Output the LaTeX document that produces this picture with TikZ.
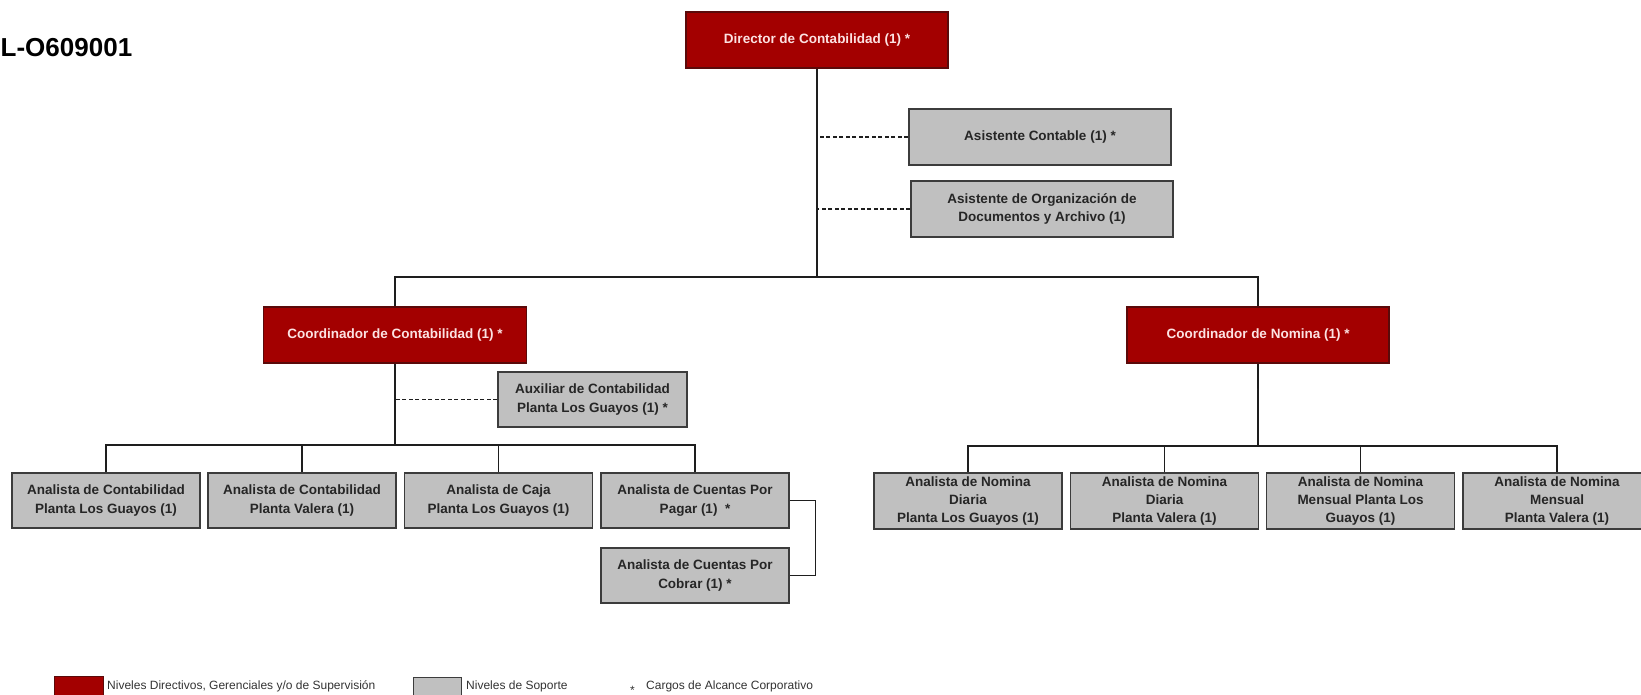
\documentclass[tikz,border=0pt]{standalone}
\usepackage{fontspec}
\setmainfont{Liberation Sans}
\definecolor{boxred}{RGB}{163,0,0}
\definecolor{boxredline}{RGB}{90,10,10}
\definecolor{boxgray}{RGB}{192,192,192}
\definecolor{boxline}{RGB}{60,60,60}
\definecolor{redtext}{RGB}{252,226,226}
\definecolor{linecol}{RGB}{30,30,30}
\tikzset{
  base/.style={rectangle, inner sep=0pt, align=center, line width=1.6pt,
    font=\bfseries\fontsize{13.5}{18.3}\selectfont},
  redbox/.style={base, fill=boxred, draw=boxredline, text=redtext},
  graybox/.style={base, fill=boxgray, draw=boxline, text=black!85},
  wide/.style={minimum width=262pt, minimum height=56pt},
  narrowbox/.style={minimum width=188pt, minimum height=55pt},
  solidlink/.style={draw=linecol, line width=1.3pt},
  dashlink/.style={draw=linecol, line width=1.3pt, dash pattern=on 4pt off 2.5pt},
  legendtext/.style={anchor=base west, inner sep=0pt, font=\fontsize{12}{14}\selectfont, text=black!80}
}
\begin{document}
\begin{tikzpicture}[x=1pt, y=-1pt]
\useasboundingbox (0,0) rectangle (1641,695);
% title
\node[anchor=base west, inner sep=0pt, font=\bfseries\fontsize{26}{30}\selectfont] (code) at (0.5,57) {L-O609001};

% top
\node[redbox, wide] (dir) at (817,40) {Director de Contabilidad (1) *};
\node[graybox, wide] (ac) at (1040,137) {Asistente Contable (1) *};
\node[graybox, wide] (ao) at (1042,209) {Asistente de Organización de\\Documentos y Archivo (1)};

% coordinators
\node[redbox, wide, minimum width=263pt] (cc) at (395,335) {Coordinador de Contabilidad (1) *};
\node[redbox, wide] (cn) at (1258,335) {Coordinador de Nomina (1) *};
\node[graybox, minimum width=189pt, minimum height=55pt] (aux) at (592.5,399.5) {Auxiliar de Contabilidad\\Planta Los Guayos (1) *};

% left analysts
\node[graybox, narrowbox] (l1) at (106,500.5) {Analista de Contabilidad\\Planta Los Guayos (1)};
\node[graybox, narrowbox] (l2) at (302,500.5) {Analista de Contabilidad\\Planta Valera (1)};
\node[graybox, narrowbox] (l3) at (498.5,500.5) {Analista de Caja\\Planta Los Guayos (1)};
\node[graybox, narrowbox] (l4) at (695,500.5) {Analista de Cuentas Por\\Pagar (1)\ \ *};
\node[graybox, narrowbox] (l5) at (695,575.5) {Analista de Cuentas Por\\Cobrar (1) *};

% right analysts
\node[graybox, narrowbox, minimum height=56pt] (r1) at (968,501) {Analista de Nomina\\Diaria\\Planta Los Guayos (1)};
\node[graybox, narrowbox, minimum height=56pt] (r2) at (1164.5,501) {Analista de Nomina\\Diaria\\Planta Valera (1)};
\node[graybox, narrowbox, minimum height=56pt] (r3) at (1360.5,501) {Analista de Nomina\\Mensual Planta Los\\Guayos (1)};
\node[graybox, narrowbox, minimum height=56pt] (r4) at (1557,501) {Analista de Nomina\\Mensual\\Planta Valera (1)};

% connectors
\coordinate (hub) at (817,277);
\draw[solidlink] (dir.south) -- (hub);
\draw[solidlink] (hub) -| (cc.north);
\draw[solidlink] (hub) -| (cn.north);
\draw[dashlink] (ac.west) -- (ac.west -| dir.south);
\draw[dashlink] (ao.west) -- (ao.west -| dir.south);
\draw[dashlink] (aux.west) -- (aux.west -| cc.south);

\coordinate (lbus) at (395,445);
\draw[solidlink] (cc.south) -- (lbus);
\foreach \n in {l1,l2,l3,l4} \draw[solidlink] (lbus) -| (\n.north);
\draw[solidlink] (l4.east) -- ++(26,0) |- (l5.east);

\coordinate (rbus) at (1258,446);
\draw[solidlink] (cn.south) -- (rbus);
\foreach \n in {r1,r2,r3,r4} \draw[solidlink] (rbus) -| (\n.north);

% legend
\node[rectangle, fill=boxred, draw=boxredline, line width=1pt, minimum width=49pt, minimum height=26pt, anchor=north west, inner sep=0pt] (legred) at (54,676) {};
\node[legendtext] (legredt) at (107,689) {Niveles Directivos, Gerenciales y/o de Supervisión};
\node[rectangle, fill=boxgray, draw=boxline, line width=1pt, minimum width=48pt, minimum height=26pt, anchor=north west, inner sep=0pt] (leggray) at (413,677) {};
\node[legendtext] (leggrayt) at (466,689) {Niveles de Soporte};
\node[legendtext] (legstar) at (630,694) {*};
\node[legendtext] (legstart) at (646,689) {Cargos de Alcance Corporativo};
\end{tikzpicture}
\end{document}
